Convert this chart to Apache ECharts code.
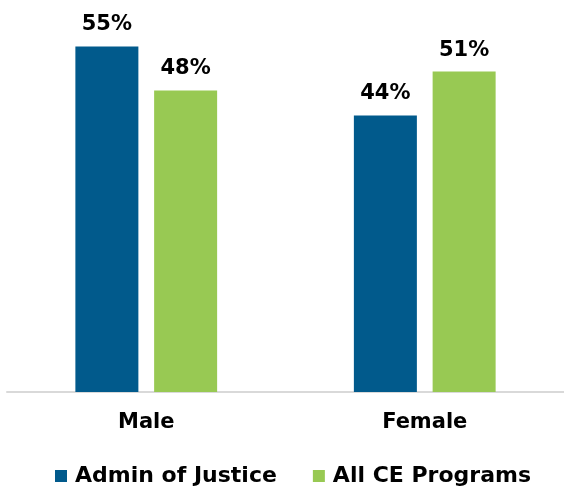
<!DOCTYPE html>
<html>
<head>
<meta charset="utf-8">
<style>
  html, body { margin: 0; padding: 0; background: #fff; }
  #chart { width: 564px; height: 487px; }
</style>
<script src="https://cdn.jsdelivr.net/npm/echarts@6/dist/echarts.min.js"></script>
</head>
<body>
<div id="chart"></div>
<script>
'use strict';

// 数据
var categories = ['Male', 'Female'];
var seriesNames = ['Admin of Justice', 'All CE Programs'];
var adminValues = [55, 44];
var ceValues = [48, 51];

var blue = '#015A8C';
var green = '#98C953';
var font = '"DejaVu Sans", sans-serif';

var myChart = echarts.init(document.getElementById('chart'));

// 柱子顶部百分比标签
var labelStyle = {
    show: true,
    position: 'top',
    distance: 11,
    formatter: '{c}%',
    color: '#000',
    fontFamily: font,
    fontWeight: 'bold',
    fontSize: 21
};

var option = {
    animation: false,
    color: [blue, green],
    grid: { left: 7, right: -5, top: 15, bottom: 95 },
    legend: {
        top: 460,
        left: 50,
        itemWidth: 12,
        itemHeight: 12,
        itemGap: 36,
        icon: 'rect',
        data: seriesNames,
        textStyle: { color: '#000', fontFamily: font, fontWeight: 'bold', fontSize: 22, padding: [0, 0, 0, 3] }
    },
    xAxis: {
        type: 'category',
        data: categories,
        axisLine: { lineStyle: { color: '#d9d9d9', width: 2 } },
        axisTick: { show: false },
        axisLabel: { color: '#000', fontFamily: font, fontWeight: 'bold', fontSize: 21, margin: 20 }
    },
    yAxis: {
        type: 'value',
        min: 0,
        max: 60,
        show: false,
        splitLine: { show: false }
    },
    series: [
        { name: seriesNames[0], type: 'bar', data: adminValues, barWidth: 63, barGap: '25%', label: labelStyle },
        { name: seriesNames[1], type: 'bar', data: ceValues, barWidth: 63, label: labelStyle }
    ]
};
myChart.setOption(option);
</script>
</body>
</html>
